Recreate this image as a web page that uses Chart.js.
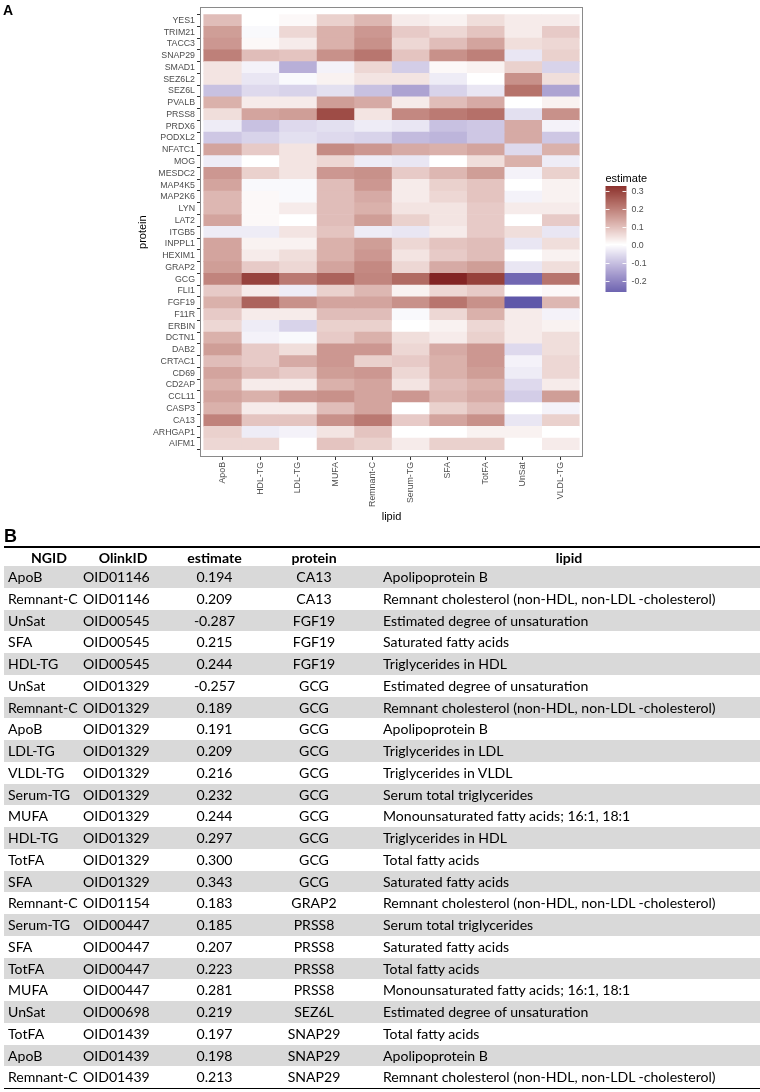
<!DOCTYPE html>
<html><head><meta charset="utf-8">
<script src="https://cdn.jsdelivr.net/npm/chart.js@4.4.1/dist/chart.umd.min.js"></script>
<style>
html,body{margin:0;padding:0;background:#fff;}
#wrap{position:relative;width:760px;height:1092px;overflow:hidden;background:#fff;}
#heat{position:absolute;left:0;top:0;}
#tbl{position:absolute;left:0;top:0;width:760px;height:1092px;font-family:Lato,'Open Sans',sans-serif;color:#000;}
.c{position:absolute;white-space:nowrap;}
</style></head><body>
<div id="wrap"><canvas id="heat" width="760" height="526"></canvas><div id="tbl"></div></div>
<script>
// ---------- Panel A data ----------
const lipids = ['ApoB','HDL-TG','LDL-TG','MUFA','Remnant-C','Serum-TG','SFA','TotFA','UnSat','VLDL-TG'];
const proteins = ['YES1','TRIM21','TACC3','SNAP29','SMAD1','SEZ6L2','SEZ6L','PVALB','PRSS8','PRDX6','PODXL2','NFATC1','MOG','MESDC2','MAP4K5','MAP2K6','LYN','LAT2','ITGB5','INPPL1','HEXIM1','GRAP2','GCG','FLI1','FGF19','F11R','ERBIN','DCTN1','DAB2','CRTAC1','CD69','CD2AP','CCL11','CASP3','CA13','ARHGAP1','AIFM1'];
const estApoB     = [0.10,0.15,0.16,0.198,0.04,0.04,-0.10,0.12,0.05,-0.03,-0.09,0.14,-0.03,0.16,0.14,0.11,0.11,0.14,-0.03,0.14,0.14,0.15,0.191,0.08,0.12,0.08,0.06,0.12,0.15,0.10,0.14,0.12,0.14,0.12,0.194,0.07,0.06];
const estHDLTG    = [0.00,-0.01,0.01,0.10,-0.02,-0.04,-0.06,0.03,0.14,-0.10,-0.07,0.08,0.00,0.07,-0.01,0.01,0.01,0.01,-0.03,0.02,0.03,0.08,0.297,0.03,0.244,0.03,-0.03,-0.02,0.08,0.08,0.10,0.03,0.12,0.03,0.09,-0.03,0.06];
const estLDLTG    = [0.01,0.06,0.03,0.09,-0.13,-0.01,-0.07,0.03,0.15,-0.06,-0.05,0.04,0.04,0.04,-0.01,-0.01,0.03,0.00,0.04,0.02,0.05,0.06,0.209,-0.03,0.17,0.03,-0.07,-0.01,0.05,0.13,0.08,0.03,0.16,0.03,0.09,-0.02,0.00];
const estMUFA     = [0.07,0.12,0.12,0.17,-0.02,0.02,-0.05,0.15,0.281,-0.05,-0.06,0.18,0.06,0.16,0.10,0.10,0.10,0.10,0.09,0.12,0.12,0.14,0.244,0.07,0.14,0.10,0.07,0.08,0.16,0.16,0.15,0.12,0.17,0.10,0.17,0.04,0.09];
const estRemnantC = [0.11,0.16,0.17,0.213,0.06,0.04,-0.10,0.13,0.04,-0.03,-0.07,0.16,-0.03,0.17,0.16,0.13,0.12,0.15,-0.03,0.15,0.16,0.183,0.189,0.11,0.14,0.10,0.07,0.12,0.16,0.07,0.16,0.14,0.14,0.14,0.209,0.09,0.07];
const estSerumTG  = [0.03,0.08,0.06,0.09,-0.08,0.04,-0.15,0.03,0.185,-0.04,-0.11,0.13,-0.04,0.08,0.03,0.03,0.04,0.07,-0.04,0.06,0.04,0.06,0.232,0.02,0.17,-0.01,0.00,0.05,0.06,0.08,0.06,0.04,0.16,0.00,0.08,0.00,0.03];
const estSFA      = [0.02,0.06,0.10,0.17,0.01,-0.03,-0.07,0.10,0.207,-0.10,-0.12,0.12,0.00,0.11,0.07,0.06,0.04,0.04,0.03,0.09,0.08,0.13,0.343,0.06,0.215,0.06,0.02,0.03,0.13,0.12,0.12,0.10,0.11,0.07,0.14,0.00,0.07];
const estTotFA    = [0.05,0.09,0.14,0.197,0.02,0.00,-0.04,0.13,0.223,-0.09,-0.09,0.14,0.05,0.15,0.09,0.09,0.08,0.08,0.08,0.10,0.10,0.15,0.300,0.08,0.17,0.12,0.06,0.07,0.16,0.16,0.15,0.12,0.13,0.10,0.17,0.02,0.07];
const estUnSat    = [0.03,0.03,0.05,-0.04,0.07,0.17,0.219,0.00,-0.05,0.13,0.13,-0.06,0.12,-0.02,0.00,-0.02,0.03,0.00,0.05,-0.04,0.00,-0.04,-0.257,0.00,-0.287,0.03,0.03,0.03,-0.06,-0.02,-0.03,-0.06,-0.08,0.00,-0.04,0.02,0.00];
const estVLDLTG   = [0.03,0.08,0.06,0.07,-0.07,0.05,-0.15,0.02,0.17,-0.02,-0.09,0.12,-0.03,0.07,0.02,0.02,0.03,0.08,-0.04,0.05,0.02,0.05,0.216,0.01,0.11,-0.02,0.02,0.05,0.05,0.06,0.06,0.03,0.15,-0.02,0.07,0.00,0.03];
const estimates = [estApoB,estHDLTG,estLDLTG,estMUFA,estRemnantC,estSerumTG,estSFA,estTotFA,estUnSat,estVLDLTG];
const legendTicks = [0.3,0.2,0.1,0.0,-0.1,-0.2];

// ---------- Panel B data ----------
const tNGID = ['ApoB','Remnant-C','UnSat','SFA','HDL-TG','UnSat','Remnant-C','ApoB','LDL-TG','VLDL-TG','Serum-TG','MUFA','HDL-TG','TotFA','SFA','Remnant-C','Serum-TG','SFA','TotFA','MUFA','UnSat','TotFA','ApoB','Remnant-C'];
const tOlink = ['OID01146','OID01146','OID00545','OID00545','OID00545','OID01329','OID01329','OID01329','OID01329','OID01329','OID01329','OID01329','OID01329','OID01329','OID01329','OID01154','OID00447','OID00447','OID00447','OID00447','OID00698','OID01439','OID01439','OID01439'];
const tEstimate = [0.194,0.209,-0.287,0.215,0.244,-0.257,0.189,0.191,0.209,0.216,0.232,0.244,0.297,0.300,0.343,0.183,0.185,0.207,0.223,0.281,0.219,0.197,0.198,0.213];
const tProtein = ['CA13','CA13','FGF19','FGF19','FGF19','GCG','GCG','GCG','GCG','GCG','GCG','GCG','GCG','GCG','GCG','GRAP2','PRSS8','PRSS8','PRSS8','PRSS8','SEZ6L','SNAP29','SNAP29','SNAP29'];
const tLipid = ['Apolipoprotein B','Remnant cholesterol (non-HDL, non-LDL -cholesterol)','Estimated degree of unsaturation','Saturated fatty acids','Triglycerides in HDL','Estimated degree of unsaturation','Remnant cholesterol (non-HDL, non-LDL -cholesterol)','Apolipoprotein B','Triglycerides in LDL','Triglycerides in VLDL','Serum total triglycerides','Monounsaturated fatty acids; 16:1, 18:1','Triglycerides in HDL','Total fatty acids','Saturated fatty acids','Remnant cholesterol (non-HDL, non-LDL -cholesterol)','Serum total triglycerides','Saturated fatty acids','Total fatty acids','Monounsaturated fatty acids; 16:1, 18:1','Estimated degree of unsaturation','Total fatty acids','Apolipoprotein B','Remnant cholesterol (non-HDL, non-LDL -cholesterol)'];
const tHeaders = ['NGID','OlinkID','estimate','protein','lipid'];

// ---------- colour scale (ggplot gradient2, Lab interpolation) ----------
const LOW = [0x3A,0x3A,0x98], HIGH = [0x83,0x24,0x24];
function lin(c){c/=255;return c<=0.04045?c/12.92:Math.pow((c+0.055)/1.055,2.4);}
function unlin(c){const v=c<=0.0031308?12.92*c:1.055*Math.pow(c,1/2.4)-0.055;return Math.max(0,Math.min(255,Math.round(v*255)));}
function toLab(rgb){const [R,G,B]=rgb.map(lin);
  let X=(0.4124564*R+0.3575761*G+0.1804375*B)/0.95047,Y=0.2126729*R+0.7151522*G+0.0721750*B,Z=(0.0193339*R+0.1191920*G+0.9503041*B)/1.08883;
  const f=t=>t>0.008856?Math.cbrt(t):7.787*t+16/116;
  const fx=f(X),fy=f(Y),fz=f(Z);return [116*fy-16,500*(fx-fy),200*(fy-fz)];}
function fromLab([L,a,b]){const fy=(L+16)/116,fx=fy+a/500,fz=fy-b/200;
  const g=t=>{const t3=t*t*t;return t3>0.008856?t3:(t-16/116)/7.787;};
  const X=g(fx)*0.95047,Y=g(fy),Z=g(fz)*1.08883;
  const R=3.2404542*X-1.5371385*Y-0.4985314*Z,G=-0.9692660*X+1.8760108*Y+0.0415560*Z,B=0.0556434*X-0.2040259*Y+1.0572252*Z;
  return [unlin(R),unlin(G),unlin(B)];}
const LAB_W=toLab([255,255,255]),LAB_LO=toLab(LOW),LAB_HI=toLab(HIGH);
const LIMIT=Math.max(...estimates.flat().map(Math.abs));
function fillFor(v){const t=Math.min(1,Math.abs(v)/LIMIT);const e=v>=0?LAB_HI:LAB_LO;
  const c=fromLab([0,1,2].map(k=>LAB_W[k]+(e[k]-LAB_W[k])*t));return `rgb(${c[0]},${c[1]},${c[2]})`;}

const AXF = "'Liberation Sans', Arial, sans-serif";

const extras = {
  id:'extras',
  afterDraw(chart){
    const ctx=chart.ctx, ca=chart.chartArea;
    ctx.save();
    ctx.strokeStyle='#8a8a8a';ctx.lineWidth=1;
    ctx.strokeRect(Math.round(ca.left)+0.5,Math.round(ca.top)+0.5,Math.round(ca.right-ca.left)-1,Math.round(ca.bottom-ca.top)-1);
    ctx.fillStyle='#000';ctx.font='bold 14px '+AXF;ctx.textBaseline='alphabetic';ctx.textAlign='left';
    ctx.fillText('A',3,14.5);
    const L={x:605.5,w:21,top:186,bottom:292,zeroY:244.5,px:180};
    for(let y=L.top;y<L.bottom;y++){ctx.fillStyle=fillFor((L.zeroY-(y+0.5))/L.px);ctx.fillRect(L.x,y,L.w,1);}
    ctx.strokeStyle='rgba(255,255,255,0.9)';ctx.lineWidth=1;
    ctx.font='8.8px '+AXF;ctx.fillStyle='#4d4d4d';ctx.textBaseline='middle';
    legendTicks.forEach(v=>{const y=Math.round(L.zeroY-v*L.px)+0.5;
      ctx.beginPath();ctx.moveTo(L.x,y);ctx.lineTo(L.x+4,y);ctx.moveTo(L.x+L.w-4,y);ctx.lineTo(L.x+L.w,y);ctx.stroke();
      ctx.fillText(v.toFixed(1),L.x+L.w+5,y+0.5);});
    ctx.fillStyle='#000';ctx.font='11px '+AXF;ctx.textBaseline='alphabetic';
    ctx.fillText('estimate',L.x,181.5);
    ctx.restore();
  }
};

const datasets = lipids.map((lip,j)=>({
  label:lip,
  data:proteins.map((p,i)=>({x:[j-0.5,j+0.5],y:i})),
  backgroundColor:estimates[j].map(fillFor),
  borderWidth:0, grouped:false, barPercentage:1, categoryPercentage:1
}));

new Chart(document.getElementById('heat'),{
  type:'bar',
  data:{datasets},
  options:{
    indexAxis:'y', responsive:false, animation:false, devicePixelRatio:1,
    layout:{padding:{left:130,right:177,top:7,bottom:0}},
    plugins:{legend:{display:false},tooltip:{enabled:false}},
    scales:{
      x:{type:'linear',min:-0.6,max:9.6,position:'bottom',
        afterBuildTicks:s=>{s.ticks=lipids.map((_,j)=>({value:j}));},
        afterFit:s=>{s.height=69;},
        ticks:{autoSkip:false,minRotation:90,maxRotation:90,padding:2,color:'#4d4d4d',font:{family:AXF,size:8.8},callback:v=>lipids[v]},
        grid:{drawOnChartArea:false,drawTicks:true,tickLength:3,color:'#333'},
        border:{display:false},
        title:{display:true,text:'lipid',color:'#000',font:{family:AXF,size:11},padding:{top:0,bottom:2.4}}
      },
      y:{type:'linear',min:-0.6,max:36.6,reverse:true,position:'left',
        afterBuildTicks:s=>{s.ticks=proteins.map((_,i)=>({value:i}));},
        afterFit:s=>{s.width=70;},
        ticks:{autoSkip:false,padding:2,color:'#4d4d4d',font:{family:AXF,size:8.8},callback:v=>proteins[v]},
        grid:{drawOnChartArea:false,drawTicks:true,tickLength:3,color:'#333'},
        border:{display:false},
        title:{display:true,text:'protein',color:'#000',font:{family:AXF,size:11},padding:{top:6.4,bottom:0}}
      }
    }
  },
  plugins:[extras]
});

// ---------- Panel B table ----------
(function(){
  const tbl=document.getElementById('tbl');
  const mc=document.createElement('canvas').getContext('2d');
  mc.font="14px Lato";
  const fs=14*105/mc.measureText('Apolipoprotein B').width;
  const TL=4, TR=760, TOP=547, HEAD=19, ROW=21.75;
  function div(css,text){const d=document.createElement('div');d.className='c';d.style.cssText=css;if(text!=null)d.textContent=text;tbl.appendChild(d);return d;}
  div('left:4px;top:527px;font:bold 18px '+AXF+';line-height:18px;','B');
  for(let i=0;i<tNGID.length;i++){
    if(i%2===0) div(`left:${TL}px;width:${TR-TL}px;top:${TOP+HEAD+i*ROW}px;height:${ROW}px;background:#d9d9d9;`);
  }
  div(`left:${TL}px;width:${TR-TL}px;top:${TOP-1}px;height:2px;background:#000;`);
  const bottom=TOP+HEAD+tNGID.length*ROW;
  div(`left:${TL}px;width:${TR-TL}px;top:${bottom-0.5}px;height:1.3px;background:#000;`);
  const cols=[{hc:49,dl:8},{hc:123,dl:83},{hc:214.5,dc:214.5},{hc:314,dc:314},{hc:569,dl:383}];
  const vals=[tNGID,tOlink,tEstimate.map(v=>v.toFixed(3)),tProtein,tLipid];
  cols.forEach((c,k)=>{
    div(`left:${c.hc-100}px;width:200px;text-align:center;top:${TOP+0.5}px;height:${HEAD}px;line-height:${HEAD}px;font-size:${fs}px;font-weight:bold;`,tHeaders[k]);
    vals[k].forEach((t,i)=>{
      const top=TOP+HEAD+i*ROW;
      if(c.dl!=null) div(`left:${c.dl}px;top:${top}px;height:${ROW}px;line-height:${ROW}px;font-size:${fs}px;`,t);
      else div(`left:${c.dc-100}px;width:200px;text-align:center;top:${top}px;height:${ROW}px;line-height:${ROW}px;font-size:${fs}px;`,t);
    });
  });
})();
</script>
</body></html>
